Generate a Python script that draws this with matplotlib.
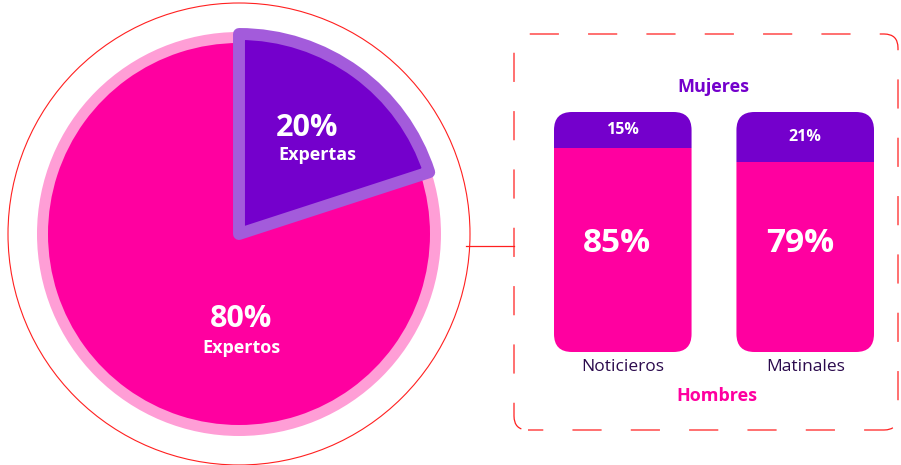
import matplotlib
matplotlib.use("Agg")
from matplotlib import pyplot as plt
from matplotlib.patches import Circle, FancyBboxPatch

plt.rcParams['font.family'] = ['Open Sans', 'DejaVu Sans']
plt.rcParams['lines.scale_dashes'] = False

# data
pie_labels = ["Expertas", "Expertos"]
pie_values = [20, 80]
programas = ["Noticieros", "Matinales"]
mujeres = [15, 21]
hombres = [85, 79]

MAGENTA = "#ff00a0"
PURPLE = "#7400cc"
LIGHT_PURPLE = "#a35bdb"
PINK = "#ff9ed6"
RED = "#ff2020"
DARK = "#2b0a4d"

W, H = 901, 465
fig = plt.figure(figsize=(W / 100, H / 100), dpi=100)

# main axes in pixel coordinates (y up)
ax = fig.add_axes([0, 0, 1, 1])
cx, cy = 239, H - 234

ax.add_patch(Circle((cx, cy), 231, fill=False, edgecolor=RED, lw=0.8, zorder=1))
ax.add_patch(Circle((cx, cy), 202, facecolor=PINK, edgecolor="none", zorder=1))

wedges, _ = ax.pie(pie_values, colors=[PURPLE, MAGENTA], startangle=90,
                   counterclock=False, radius=191, center=(cx, cy),
                   wedgeprops=dict(linewidth=0))
for w in wedges:
    w.set_zorder(2)
wedges[0].set_radius(200)
wedges[0].set_edgecolor(LIGHT_PURPLE)
wedges[0].set_linewidth(8.6)
wedges[0].set_joinstyle("round")
wedges[0].set_zorder(3)

ax.text(307, H - 128, f"{pie_values[0]}%", color="white", fontsize=22,
        fontweight="bold", ha="center", va="center", zorder=5)
ax.text(317, H - 155, pie_labels[0], color="white", fontsize=13,
        fontweight="bold", ha="center", va="center", zorder=5)
ax.text(241, H - 319, f"{pie_values[1]}%", color="white", fontsize=22,
        fontweight="bold", ha="center", va="center", zorder=5)
ax.text(241, H - 348, pie_labels[1], color="white", fontsize=13,
        fontweight="bold", ha="center", va="center", zorder=5)

# dashed frame + connector
ax.add_patch(FancyBboxPatch((514, H - 430), 384, 396,
                            boxstyle="round,pad=0,rounding_size=14",
                            fill=False, edgecolor=RED, lw=0.9,
                            linestyle=(10, (21, 21))))
ax.plot([466, 514], [H - 246, H - 246], color=RED, lw=0.9)

ax.text(713, H - 87, "Mujeres", color=PURPLE, fontsize=13,
        fontweight="bold", ha="center", va="center")
ax.text(717, H - 396, "Hombres", color=MAGENTA, fontsize=13,
        fontweight="bold", ha="center", va="center")

ax.set_xlim(0, W)
ax.set_ylim(0, H)
ax.set_aspect("auto")
ax.axis("off")

# stacked bars
axb = fig.add_axes([554 / W, (H - 352) / H, 320 / W, 240 / H])
x = [0, 1]
bw = 0.754
b1 = axb.bar(x, hombres, width=bw, color=MAGENTA, linewidth=0)
b2 = axb.bar(x, mujeres, bottom=hombres, width=bw, color=PURPLE, linewidth=0)
axb.set_xlim(-0.377, 1.377)
axb.set_ylim(0, 100)
axb.axis("off")

px_x = 320 / 1.754
px_y = 240 / 100
r = 18 / px_x
for i, xi in enumerate(x):
    clip = FancyBboxPatch((xi - bw / 2, 0), bw, 100,
                          boxstyle=f"round,pad=0,rounding_size={r}",
                          mutation_aspect=px_x / px_y,
                          transform=axb.transData)
    b1[i].set_clip_path(clip)
    b2[i].set_clip_path(clip)
    axb.text(xi - 0.03, 45, f"{hombres[i]}%", color="white", fontsize=24,
             fontweight="bold", ha="center", va="center")
    axb.text(xi, hombres[i] + mujeres[i] / 2, f"{mujeres[i]}%", color="white",
             fontsize=11.5, fontweight="bold", ha="center", va="center")
    axb.text(xi, -6.3, programas[i], color=DARK, fontsize=12.5,
             fontweight="medium", ha="center", va="center", clip_on=False)

fig.savefig("out.png", dpi=100)
